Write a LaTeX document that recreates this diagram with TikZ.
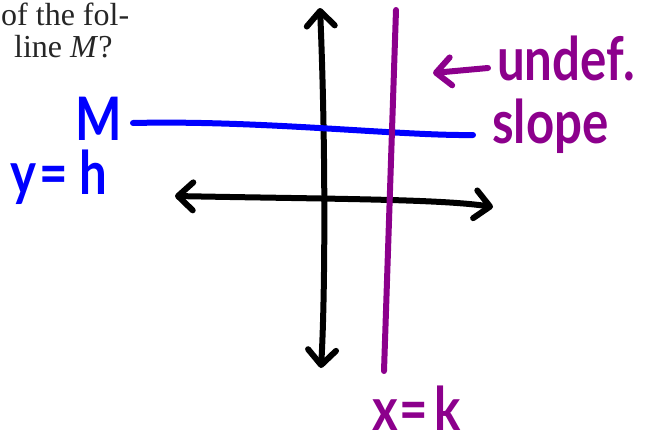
\documentclass[tikz,border=0pt]{standalone}
\usepackage{fontspec}
\setmainfont{Liberation Serif}
\newfontfamily\handfont[FakeStretch=0.82]{Lato}
\usetikzlibrary{positioning, arrows.meta}
\definecolor{penblue}{RGB}{0,0,255}
\definecolor{penpurple}{RGB}{140,0,140}

\begin{document}
\begin{tikzpicture}[x=1pt, y=-1pt, >={Straight Barb[length=15pt, width=28pt, round]},
    pen/.style={line width=6pt, line cap=round, line join=round},
    hand/.style={inner sep=0pt, anchor=base west, text depth=0pt, font=\handfont\bfseries\fontsize{60}{60}\selectfont},
    book/.style={inner sep=0pt, anchor=base west, text=black!85, font=\fontsize{32}{32}\selectfont}]
    \useasboundingbox (0,0) rectangle (650,442);
    % Text from the page
    \node[book] (qline1) at (1,25) {of the fol-};
    \node[book] (qline2) at (14,57) {line \textit{M}?};
    % Axes
    \coordinate (ytop) at (320,8);
    \coordinate (ybot) at (321,368);
    \coordinate (xleft) at (175,196);
    \coordinate (xright) at (493,207);
    \draw[pen, <->] (ytop) .. controls (326,150) and (325,300) .. (ybot);
    \draw[pen, <->] (xleft) .. controls (330,199) and (440,199) .. (xright);
    % Line M
    \coordinate (mleft) at (133,123);
    \coordinate (mright) at (473,135);
    \draw[pen, penblue] (mleft) .. controls (260,120) and (400,136) .. (mright);
    \node[hand, text=penblue] (mlabel) at (75,140) {M};
    \node[hand, text=penblue] (hlabel) at (10,194) {y\kern3pt=\kern12pt h};
    % Vertical line x=k
    \coordinate (ktop) at (396,10);
    \coordinate (kbot) at (384,371);
    \draw[pen, penpurple] (ktop) -- (kbot);
    \node[hand, text=penpurple] (klabel) at (372,430) {x\kern2pt=\kern6pt k};
    % Note on the slope
    \node[hand, text=penpurple] (undef) at (497,80) {undef.};
    \node[hand, text=penpurple] (slope) at (492,143) {slope};
    \coordinate (undeftip) at (433,73);
    \draw[pen, penpurple, ->] ([xshift=-9pt, yshift=12pt]undef.base west) -- (undeftip);
\end{tikzpicture}
\end{document}
